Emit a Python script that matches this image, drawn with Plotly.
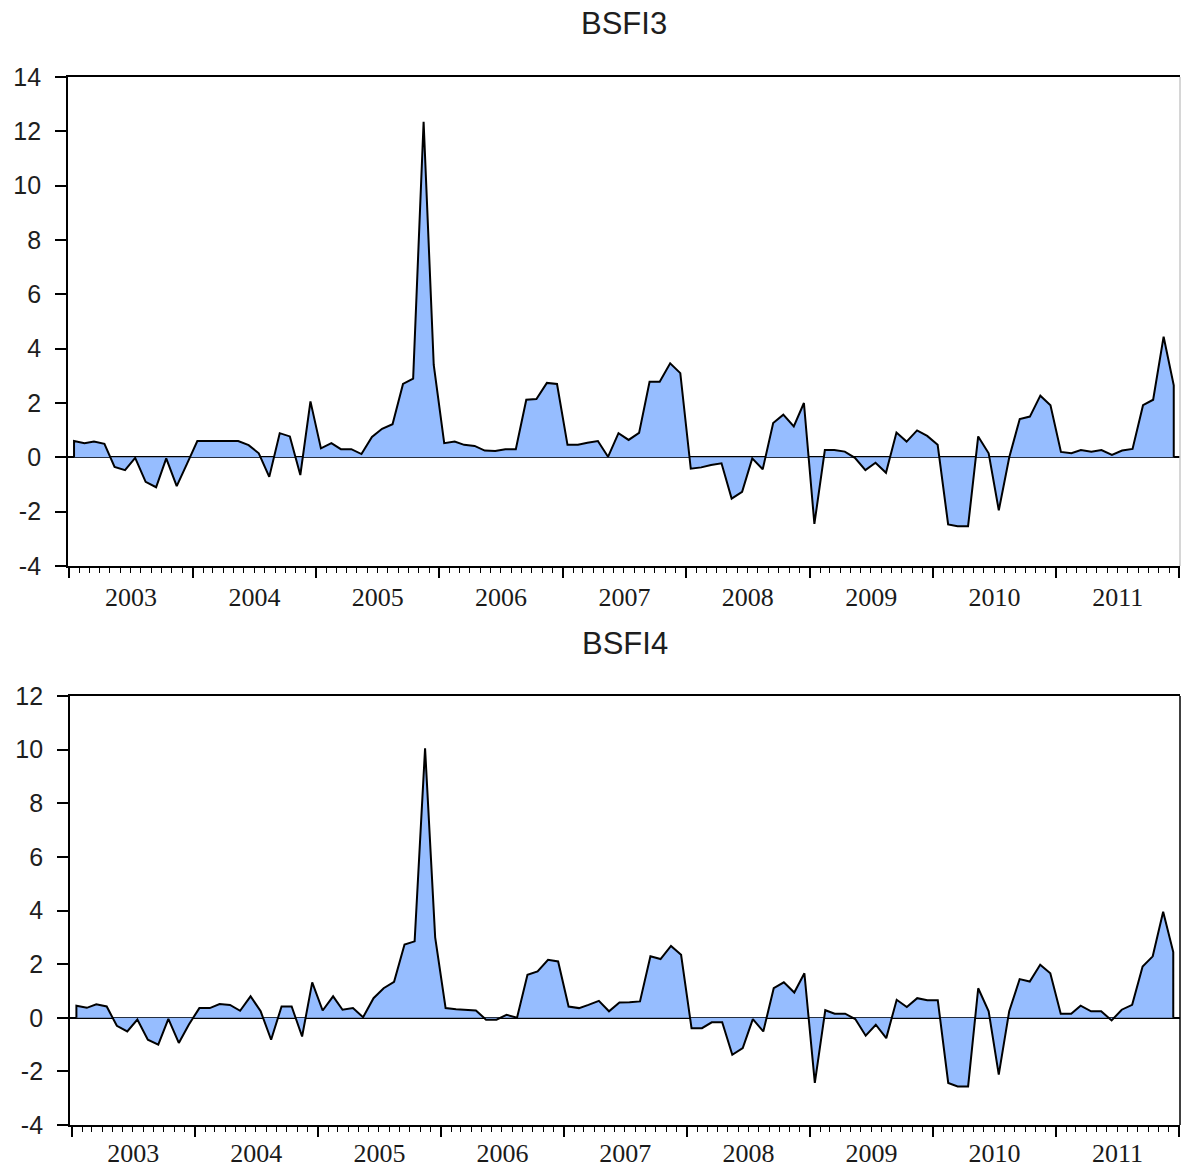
import pandas as pd
import plotly.graph_objects as go

# ---------------- data (monthly, Jan 2003 - Dec 2011) ----------------
start_month = "2003-01-01"
n_months = 108

bsfi3 = [
    # 2003
    0.60, 0.52, 0.58, 0.50, -0.35, -0.47, -0.02, -0.90, -1.10, -0.04, -1.06, -0.25,
    # 2004
    0.60, 0.60, 0.60, 0.60, 0.60, 0.45, 0.15, -0.72, 0.89, 0.77, -0.65, 2.06,
    # 2005
    0.33, 0.52, 0.30, 0.30, 0.12, 0.75, 1.05, 1.22, 2.70, 2.90, 12.35, 3.40,
    # 2006
    0.52, 0.58, 0.46, 0.42, 0.25, 0.23, 0.30, 0.30, 2.12, 2.15, 2.74, 2.70,
    # 2007
    0.46, 0.46, 0.54, 0.60, 0.02, 0.89, 0.64, 0.90, 2.78, 2.78, 3.46, 3.10,
    # 2008
    -0.42, -0.37, -0.28, -0.22, -1.52, -1.27, -0.04, -0.44, 1.26, 1.57, 1.14, 2.00,
    # 2009
    -2.45, 0.27, 0.27, 0.21, -0.02, -0.47, -0.20, -0.57, 0.91, 0.58, 0.99, 0.79,
    # 2010
    0.46, -2.47, -2.54, -2.54, 0.77, 0.15, -1.95, 0.00, 1.41, 1.50, 2.27, 1.92,
    # 2011
    0.20, 0.15, 0.27, 0.21, 0.27, 0.09, 0.25, 0.31, 1.92, 2.12, 4.44, 2.65,
]

bsfi4 = [
    # 2003
    0.45, 0.37, 0.50, 0.42, -0.30, -0.51, -0.07, -0.82, -1.00, -0.04, -0.94, -0.25,
    # 2004
    0.36, 0.36, 0.51, 0.48, 0.26, 0.80, 0.24, -0.82, 0.42, 0.42, -0.70, 1.32,
    # 2005
    0.27, 0.80, 0.30, 0.36, 0.02, 0.73, 1.10, 1.34, 2.73, 2.85, 10.05, 3.00,
    # 2006
    0.36, 0.32, 0.30, 0.27, -0.07, -0.07, 0.11, 0.00, 1.60, 1.73, 2.16, 2.10,
    # 2007
    0.42, 0.36, 0.48, 0.63, 0.24, 0.57, 0.58, 0.61, 2.29, 2.19, 2.68, 2.35,
    # 2008
    -0.39, -0.39, -0.17, -0.17, -1.38, -1.13, -0.05, -0.51, 1.10, 1.32, 0.94, 1.66,
    # 2009
    -2.43, 0.28, 0.15, 0.15, -0.05, -0.67, -0.26, -0.76, 0.67, 0.40, 0.73, 0.65,
    # 2010
    0.65, -2.43, -2.56, -2.56, 1.10, 0.24, -2.12, 0.24, 1.44, 1.35, 1.98, 1.66,
    # 2011
    0.15, 0.15, 0.45, 0.24, 0.24, -0.10, 0.30, 0.48, 1.91, 2.29, 3.95, 2.45,
]

titles = ["BSFI3", "BSFI4"]
y_ticks_top = [-4, -2, 0, 2, 4, 6, 8, 10, 12, 14]
y_ticks_bottom = [-4, -2, 0, 2, 4, 6, 8, 10, 12]
y_ticks = [y_ticks_top, y_ticks_bottom]
y_ranges = [[-4, 14], [-4, 12]]

# ---------------- style ----------------
W, H = 1182, 1167
FILL = "rgb(150,189,255)"
LINE = "black"
AX_FONT = dict(family="Liberation Sans, Arial, sans-serif", size=25, color="#1e1e1e")
YEAR_FONT = dict(family="Liberation Serif, Times New Roman, serif", size=26, color="#1a1a1a")
TITLE_FONT = dict(family="Liberation Sans, Arial, sans-serif", size=31, color="#1e1e1e")

# pixel boxes of the two panels (left, right, top, bottom)
boxes = [(68, 1180, 77, 566), (70, 1180, 696, 1125)]
x_ranges = [["2002-12-28 03:00", "2012-01-02 12:00"], ["2002-12-27 00:00", "2012-01-04 00:00"]]
right_border_colors = ["#c8c8c8", "black"]

months = pd.date_range(start_month, periods=n_months, freq="MS") + pd.Timedelta(days=14)

fig = go.Figure()
series = [bsfi3, bsfi4]
for k, vals in enumerate(series):
    xs = [months[0]] + list(months) + [months[-1]]
    ys = [0] + list(vals) + [0]
    suffix = "" if k == 0 else str(k + 1)
    fig.add_trace(go.Scatter(
        x=xs, y=ys, mode="lines", fill="tozeroy", fillcolor=FILL,
        line=dict(color=LINE, width=2), xaxis="x" + suffix, yaxis="y" + suffix,
        showlegend=False, hoverinfo="skip",
    ))

layout = dict(
    width=W, height=H, margin=dict(l=0, r=0, t=0, b=0),
    paper_bgcolor="white", plot_bgcolor="white", showlegend=False,
)
annotations = []
shapes = []
for k in range(2):
    l, r, t, b = boxes[k]
    suffix = "" if k == 0 else str(k + 1)
    xd = [l / W, r / W]
    yd = [1 - b / H, 1 - t / H]
    layout["xaxis" + suffix] = dict(
        domain=xd, type="date", range=x_ranges[k], anchor="y" + suffix,
        showgrid=False, zeroline=False, showline=True, linecolor="black", linewidth=1.8,
        mirror=True, ticks="outside", ticklen=10, tickwidth=1.5, tickcolor="black",
        dtick="M12", tick0="2003-01-01", ticklabelmode="period", tickformat="%Y",
        ticklabelstandoff=-3 if k == 0 else -6, tickfont=YEAR_FONT,
        minor=dict(dtick="M1", tick0="2003-01-01", ticks="outside", ticklen=5,
                   tickwidth=1.2, tickcolor="black", showgrid=False),
        layer="above traces", automargin=False,
    )
    layout["yaxis" + suffix] = dict(
        domain=yd, range=y_ranges[k], anchor="x" + suffix,
        tickmode="array", tickvals=y_ticks[k], ticktext=[str(v) for v in y_ticks[k]],
        showgrid=False, zeroline=True, zerolinecolor="black", zerolinewidth=1.8,
        showline=True, linecolor="black", linewidth=1.8, mirror=False,
        ticks="outside", ticklen=11, tickwidth=1.5, tickcolor="black",
        ticklabelstandoff=9, tickfont=AX_FONT, layer="above traces", automargin=False,
    )
    shapes.append(dict(type="line", xref="x" + suffix + " domain", yref="y" + suffix + " domain",
                       x0=1, x1=1, y0=0, y1=1,
                       line=dict(color=right_border_colors[k], width=1.5)))
    annotations.append(dict(text=titles[k], xref="paper", yref="paper",
                            x=(l + r) / 2 / W, y=1 - (t - 53) / H, xanchor="center",
                            yanchor="middle", showarrow=False, font=TITLE_FONT))
layout["annotations"] = annotations
layout["shapes"] = shapes
fig.update_layout(**layout)

fig.write_html(
    "out.html",
    config={"displayModeBar": False},
    post_script="document.body.style.margin='0px';document.body.style.overflow='hidden';",
)
